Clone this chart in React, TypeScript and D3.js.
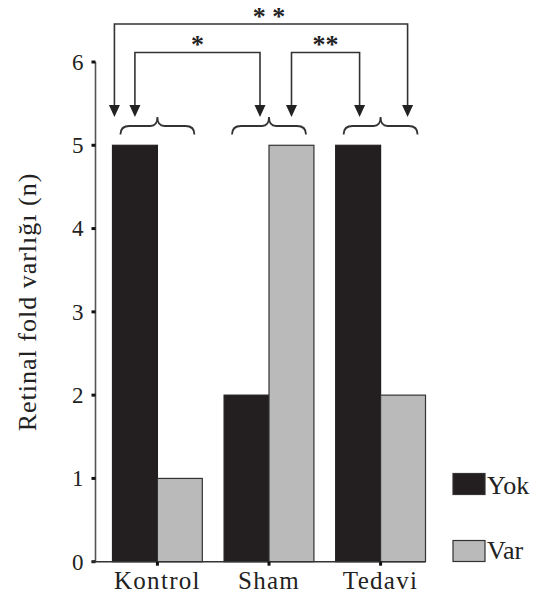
import React from "react";
import * as d3 from "d3";

const categories = ["Kontrol", "Sham", "Tedavi"];
const seriesNames = ["Yok", "Var"];
const yokValues = [5, 2, 5];
const varValues = [1, 5, 2];
const yTicks = [0, 1, 2, 3, 4, 5, 6];
const yLabel = "Retinal fold varlığı (n)";
// comparisons between groups and their significance labels
const comparisonFrom = ["Kontrol", "Kontrol", "Sham"];
const comparisonTo = ["Tedavi", "Sham", "Tedavi"];
const comparisonLabels = ["* *", "*", "**"];

const W = 544;
const H = 595;
const FONT = "Liberation Serif, Times New Roman, DejaVu Serif, serif";
const DARK = "#231f20";
const GRAY = "#bababa";

export default function App() {
  const x = d3.scaleBand<string>().domain(categories).range([112.5, 425.5]).paddingInner(0.195).paddingOuter(0);
  const xs = d3.scaleBand<string>().domain(seriesNames).range([0, x.bandwidth()]).padding(0);
  const y = d3.scaleLinear().domain([0, 6]).range([561.7, 62]);
  const values: Record<string, number[]> = { Yok: yokValues, Var: varValues };
  const fills: Record<string, string> = { Yok: DARK, Var: GRAY };

  const center = (c: string) => (x(c) as number) + x.bandwidth() / 2;
  // arrow slot offsets relative to group centre (layout only)
  const slotOffsets: Record<string, number[]> = {
    Kontrol: [-43, -22.5],
    Sham: [-9, 22.5],
    Tedavi: [-21, 27],
  };
  const arrowX = (c: string, i: number) => center(c) + slotOffsets[c][i];
  const comps = [
    { a: arrowX(comparisonFrom[0], 0), b: arrowX(comparisonTo[0], 1), ly: 24, label: comparisonLabels[0], ty: 25, tx: 269 },
    { a: arrowX(comparisonFrom[1], 1), b: arrowX(comparisonTo[1], 0), ly: 52.5, label: comparisonLabels[1], ty: 53, tx: 0 },
    { a: arrowX(comparisonFrom[2], 1), b: arrowX(comparisonTo[2], 0), ly: 52.5, label: comparisonLabels[2], ty: 53, tx: 0 },
  ];
  const arrowTop = 105;
  const arrowTip = 117;
  const aw = 5.5;

  const brace = (c: string) => {
    const xc = center(c);
    const x0 = xc - 37;
    const x1 = xc + 37;
    const yEnd = 134.5, yLine = 126, yPeak = 117;
    return `M${x0},${yEnd} Q${x0},${yLine} ${x0 + 9},${yLine} L${xc - 7},${yLine} Q${xc},${yLine} ${xc},${yPeak} Q${xc},${yLine} ${xc + 7},${yLine} L${x1 - 9},${yLine} Q${x1},${yLine} ${x1},${yEnd}`;
  };

  return (
    <svg width={W} height={H} style={{ position: "absolute", left: 0, top: 0, background: "#fff", fontFamily: FONT }}>
      <rect x={0} y={0} width={W} height={H} fill="#fff" />
      {/* bars */}
      {categories.map((c, ci) => (
        <g key={c}>
          {seriesNames.map((s) => (
            <rect
              key={s}
              x={(x(c) as number) + (xs(s) as number)}
              y={y(values[s][ci])}
              width={xs.bandwidth()}
              height={y(0) - y(values[s][ci])}
              fill={fills[s]}
              stroke={s === "Var" ? "#333" : DARK}
              strokeWidth={1.2}
            />
          ))}
        </g>
      ))}
      {/* y axis */}
      <line x1={95.5} x2={95.5} y1={y(6)} y2={y(0)} stroke="#555" strokeWidth={1.6} />
      {yTicks.map((t) => (
        <g key={t}>
          <line x1={91.5} x2={95.5} y1={y(t)} y2={y(t)} stroke="#111" strokeWidth={3} />
          <text x={83.5} y={y(t)} dy="0.34em" textAnchor="end" fontSize={23} fill="#222" style={{ fontFamily: FONT }}>
            {t}
          </text>
        </g>
      ))}
      {/* x axis */}
      <line x1={91.5} x2={425.5} y1={y(0)} y2={y(0)} stroke="#333" strokeWidth={1.6} />
      {categories.map((c) => (
        <g key={c}>
          <line x1={center(c)} x2={center(c)} y1={y(0)} y2={y(0) + 4} stroke="#111" strokeWidth={3} />
          <text x={center(c)} y={589} textAnchor="middle" fontSize={25} letterSpacing={1.3} fill="#222" style={{ fontFamily: FONT }}>
            {c}
          </text>
        </g>
      ))}
      {/* y label */}
      <text
        transform={`translate(36,302) rotate(-90)`}
        textAnchor="middle"
        fontSize={26}
        letterSpacing={1}
        fill="#222"
        style={{ fontFamily: FONT }}
      >
        {yLabel}
      </text>
      {/* braces */}
      {categories.map((c) => (
        <path key={c} d={brace(c)} fill="none" stroke="#333" strokeWidth={1.8} />
      ))}
      {/* comparison arrows */}
      {comps.map((cp, i) => (
        <g key={i}>
          <path d={`M${cp.a},${arrowTop} V${cp.ly} H${cp.b} V${arrowTop}`} fill="none" stroke="#333" strokeWidth={1.6} />
          {[cp.a, cp.b].map((ax, j) => (
            <path key={j} d={`M${ax - aw},${arrowTop} L${ax + aw},${arrowTop} L${ax},${arrowTip} Z`} fill="#222" />
          ))}
          <text x={cp.tx || (cp.a + cp.b) / 2} y={cp.ty} textAnchor="middle" fontSize={26} fontWeight="bold" fill="#222" style={{ fontFamily: FONT }}>
            {cp.label}
          </text>
        </g>
      ))}
      {/* legend */}
      {seriesNames.map((s, i) => (
        <g key={s}>
          <rect x={453} y={i === 0 ? 473.5 : 540.5} width={32} height={21} fill={fills[s]} stroke="#333" strokeWidth={1.2} />
          <text x={487} y={i === 0 ? 494 : 559} fontSize={26} fill="#222" style={{ fontFamily: FONT }}>
            {s}
          </text>
        </g>
      ))}
    </svg>
  );
}
